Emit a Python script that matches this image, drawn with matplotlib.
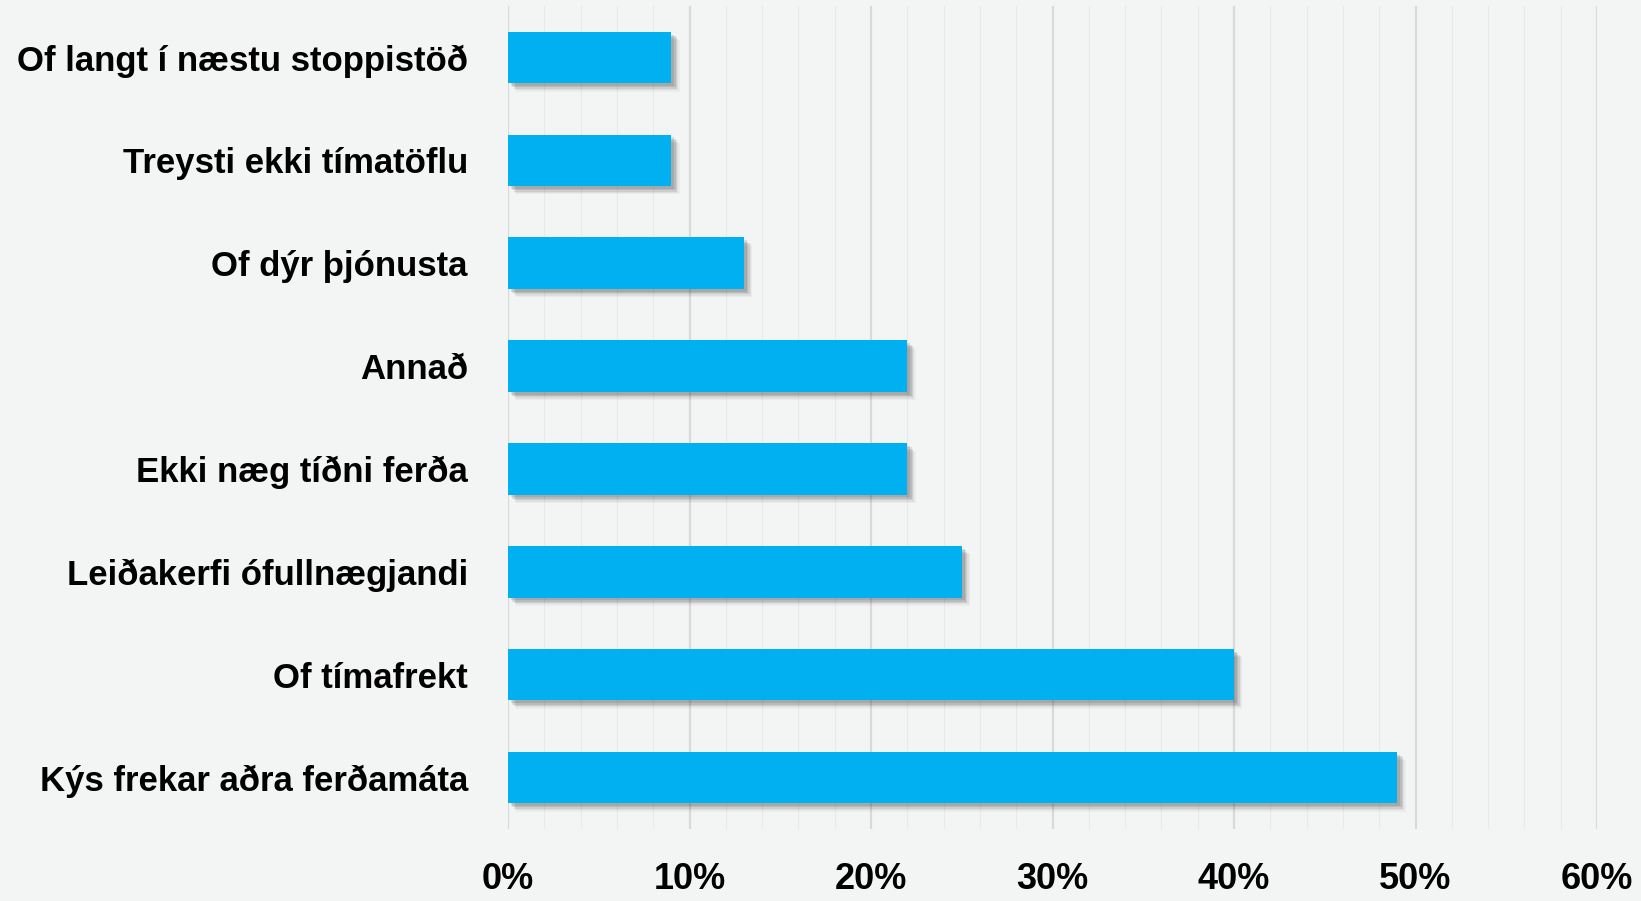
import matplotlib
matplotlib.use("Agg")
import matplotlib.pyplot as plt
import matplotlib.patheffects as pe
from matplotlib.ticker import MultipleLocator, FuncFormatter

# ---------- Data ----------
categories = [
    "Kýs frekar aðra ferðamáta",
    "Of tímafrekt",
    "Leiðakerfi ófullnægjandi",
    "Ekki næg tíðni ferða",
    "Annað",
    "Of dýr þjónusta",
    "Treysti ekki tímatöflu",
    "Of langt í næstu stoppistöð",
]
values = [49, 40, 25, 22, 22, 13, 9, 9]
x_ticks = [0, 10, 20, 30, 40, 50, 60]

bg = "#f3f4f4"
bar_color = "#00b0f0"

plt.rcParams["font.family"] = ["Liberation Sans", "DejaVu Sans"]

fig = plt.figure(figsize=(16.41, 9.01), dpi=100, facecolor=bg)
ax = fig.add_axes([0.3096, 0.0799, 0.6636, 0.9134], facecolor=bg)

# soft shadow: stack a few offset shadows
shadow = [
    pe.SimplePatchShadow(offset=(o, -o), shadow_rgbFace="#4a4a4a", alpha=a)
    for o, a in [(6.0, 0.05), (5.0, 0.08), (4.0, 0.11), (3.0, 0.14), (2.0, 0.16)]
] + [pe.Normal()]

bars = ax.barh(range(len(categories)), values, height=0.5, color=bar_color, zorder=3)
for b in bars:
    b.set_path_effects(shadow)

ax.set_xlim(0, 60)
ax.set_ylim(-0.5, len(categories) - 0.5)
ax.set_yticks(range(len(categories)))
ax.set_yticklabels(categories, fontsize=25, fontweight="bold")
ax.set_xticks(x_ticks)
ax.xaxis.set_major_formatter(FuncFormatter(lambda v, p: f"{v:.0f}%"))
ax.xaxis.set_minor_locator(MultipleLocator(2))

for lbl in ax.get_xticklabels():
    lbl.set_fontsize(26)
    lbl.set_fontweight("bold")

ax.tick_params(axis="y", length=0, pad=29)
ax.tick_params(axis="x", which="both", length=0, pad=24)

ax.grid(axis="x", which="major", color="#d9d9d9", linewidth=1.6, zorder=0)
ax.grid(axis="x", which="minor", color="#e8e9e9", linewidth=0.8, zorder=0)
ax.grid(axis="y", visible=False)
for s in ax.spines.values():
    s.set_visible(False)

fig.savefig("out.png", dpi=100, facecolor=bg)
